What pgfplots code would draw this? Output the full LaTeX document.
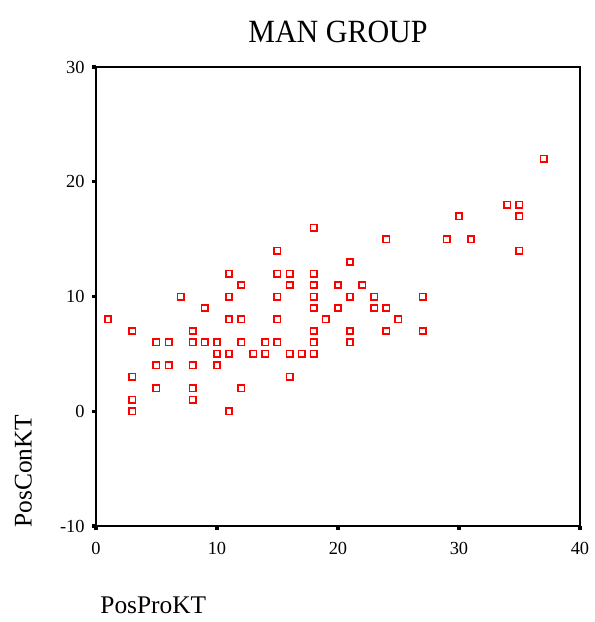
\documentclass[border=0pt]{standalone}
\usepackage{fontspec}
\setmainfont{Liberation Serif}
\usepackage{graphicx}
\usepackage{pgfplots}
\pgfplotsset{compat=1.18}
\begin{document}
\begin{tikzpicture}
\useasboundingbox (-48pt,-48pt) rectangle (249.5pt,263pt);
\begin{axis}[
  at={(0,0)}, anchor=south west,
  scale only axis, width=242pt, height=229.5pt,
  xmin=0, xmax=40, ymin=-10, ymax=30,
  xtick={0,10,20,30,40}, ytick={-10,0,10,20,30},
  tick align=outside, tick pos=left,
  major tick length=2pt,
  major tick style={line width=1.6pt, black},
  axis line style={line width=1pt},
  ticklabel style={font=\fontsize{9.2}{11}\selectfont, inner sep=0pt},
  /pgf/number format/assume math mode=true,
  yticklabel style={anchor=east, xshift=-3.5pt},
  xticklabel style={anchor=north, yshift=-5.8pt},
  clip=false,
]
\addplot[only marks, mark=square, color=red, mark size=1.6pt, mark options={draw=red, fill=none, line width=0.8pt, solid}] coordinates {
(1,8)
(3,7) (3,3) (3,1) (3,0)
(5,6) (5,4) (5,2)
(6,6) (6,4)
(7,10)
(8,7) (8,6) (8,4) (8,2) (8,1)
(9,9) (9,6)
(10,6) (10,5) (10,4)
(11,12) (11,10) (11,8) (11,5) (11,0)
(12,11) (12,8) (12,6) (12,2)
(13,5)
(14,6) (14,5)
(15,14) (15,12) (15,10) (15,8) (15,6)
(16,12) (16,11) (16,5) (16,3)
(17,5)
(18,16) (18,12) (18,11) (18,10) (18,9) (18,7) (18,6) (18,5)
(19,8)
(20,11) (20,9)
(21,13) (21,10) (21,7) (21,6)
(22,11)
(23,10) (23,9)
(24,15) (24,9) (24,7)
(25,8)
(27,10) (27,7)
(29,15)
(30,17)
(31,15)
(34,18)
(35,18) (35,17) (35,14)
(37,22)
};
\end{axis}
\node[anchor=base, inner sep=0pt] at (121pt,241.7pt) {\scalebox{1}[1.08]{\fontsize{15}{18}\selectfont MAN GROUP}};
\node[anchor=base west, inner sep=0pt, font=\fontsize{12.7}{15}\selectfont] at (2pt,-43.5pt) {PosProKT};
\node[rotate=90, anchor=base west, inner sep=0pt, font=\fontsize{12.7}{15}\selectfont] at (-32.2pt,-1pt) {PosConKT};
\end{tikzpicture}
\end{document}
